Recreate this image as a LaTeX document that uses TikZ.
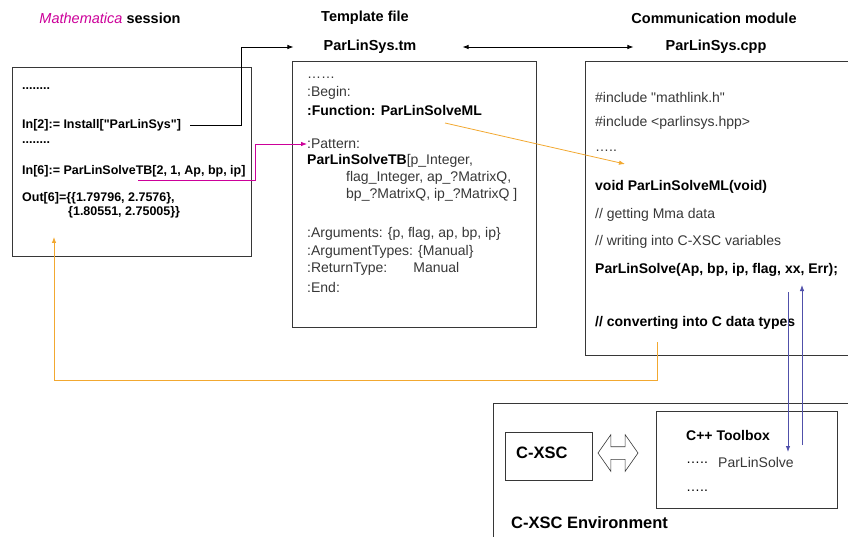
\documentclass[tikz,border=0pt]{standalone}
\usepackage{fontspec}
\setmainfont{Liberation Sans}
\usetikzlibrary{shapes.arrows,arrows.meta}
\definecolor{mmamagenta}{RGB}{204,0,153}
\definecolor{linkorange}{RGB}{242,168,48}
\definecolor{linkblue}{RGB}{80,80,170}
\definecolor{boxgray}{RGB}{55,55,55}
\definecolor{codegray}{RGB}{55,55,55}
\begin{document}
\begin{tikzpicture}[x=1pt,y=-1pt,>={Latex[length=6pt,width=4.5pt]},
  box/.style={draw=boxgray,line width=0.8pt},
  txt/.style={anchor=west,inner sep=0pt,font=\fontsize{14}{16}\selectfont,text=codegray},
  btxt/.style={anchor=west,inner sep=0pt,font=\fontsize{14}{16}\selectfont\bfseries},
  mtxt/.style={anchor=west,inner sep=0pt,font=\fontsize{12.5}{14}\selectfont\bfseries},
  head/.style={inner sep=0pt,font=\fontsize{14.5}{16}\selectfont\bfseries},
  big/.style={anchor=west,inner sep=0pt,font=\fontsize{16.5}{19}\selectfont\bfseries},
  tbtxt/.style={anchor=west,inner sep=0pt,font=\fontsize{14}{16}\selectfont}]
\useasboundingbox (0,0) rectangle (848,537);
% headers
\node[head] (mmatitle) at (110,18) {\textcolor{mmamagenta}{\mdseries\itshape Mathematica} session};
\node[head] (tmtitle) at (365,18) {Template file};
\node[head] (tmname) at (370,47) {ParLinSys.tm};
\node[head] (cpptitle) at (714,18) {Communication module};
\node[head] (cppname) at (716,47) {ParLinSys.cpp};

% Mathematica session
\draw[box] (12,67) rectangle (251,256);
\node[mtxt] (mdots1) at (22,89) {........};
\node[mtxt] (install) at (22,125) {In[2]:= Install[\textquotedbl ParLinSys\textquotedbl]};
\node[mtxt] (mdots2) at (22,143) {........};
\node[mtxt] (solvetb) at (22,171) {In[6]:= ParLinSolveTB[2, 1, Ap, bp, ip]};
\node[mtxt] (out1) at (22,198) {Out[6]=\{\{1.79796, 2.7576\},};
\node[mtxt] (out2) at (68,212) {\{1.80551, 2.75005\}\}};

% template file
\draw[box] (292,61) rectangle (536,327);
\node[txt] (tdots) at (307,78) {……};
\node[txt] (tbegin) at (307,93) {:Begin:};
\node[btxt] (tfunc) at (307,110) {:Function: ParLinSolveML};
\node[txt] (pattern) at (307,144) {:Pattern:};
\node[txt] (tpat1) at (307,161) {\textbf{\color{black}ParLinSolveTB}[p\_Integer,};
\node[txt] (tpat2) at (346,178) {flag\_Integer, ap\_?MatrixQ,};
\node[txt] (tpat3) at (346,195) {bp\_?MatrixQ, ip\_?MatrixQ ]};
\node[txt] (targs) at (307,234) {:Arguments: \{p, flag, ap, bp, ip\}};
\node[txt] (ttypes) at (307,252) {:ArgumentTypes: \{Manual\}};
\node[txt] (tret) at (307,269) {:ReturnType:\hspace{26pt}Manual};
\node[txt] (tend) at (307,287) {:End:};

% communication module
\draw[box] (585,61) rectangle (870,355);
\node[txt] (inc1) at (595,97) {\#include \textquotedbl mathlink.h\textquotedbl};
\node[txt] (inc2) at (595,123) {\#include <parlinsys.hpp>};
\node[txt] (cdots) at (595,151) {…..};
\node[btxt] (voidml) at (595,187) {void ParLinSolveML(void)};
\node[txt] (getmma) at (595,215) {// getting Mma data};
\node[txt] (writex) at (595,242) {// writing into C-XSC variables};
\node[btxt] (plsolve) at (595,270) {ParLinSolve(Ap, bp, ip, flag, xx, Err);};
\node[btxt] (convert) at (595,323) {// converting into C data types};

% C-XSC environment
\draw[box] (493,403) rectangle (870,560);
\draw[box] (505,432) rectangle (592,480);
\node[big] (cxsc) at (516,453) {C-XSC};
\node[double arrow,draw=boxgray,line width=0.6pt,inner xsep=0pt,inner ysep=6pt,
  minimum height=40pt,double arrow head extend=12pt,double arrow tip angle=110]
  (cxsclink) at (618,453) {};
\draw[box] (656,411) rectangle (837,508);
\node[tbtxt,font=\fontsize{14}{16}\selectfont\bfseries] (toolbox) at (686,435) {C++ Toolbox};
\node[tbtxt] (tbdots1) at (686,463) {…..};
\node[tbtxt,text=codegray] (tbsolve) at (718,462) {ParLinSolve};
\node[tbtxt] (tbdots2) at (686,491) {…..};
\node[big] (envlabel) at (511,523) {C-XSC Environment};

% connectors
\coordinate (instbend) at (241,125);
\draw[->,line width=0.8pt] ([xshift=9pt]install.east) -- (instbend) |- ([xshift=-30pt]tmname.west);
\draw[<->,line width=0.8pt] ([xshift=46pt]tmname.east) -- ([xshift=-32pt]cppname.west);
\coordinate (tbbend) at (255,180);
\draw[->,color=mmamagenta,line width=0.8pt] (138,180) -- (tbbend) |- (pattern.west);
\coordinate (fnstart) at (445,123);
\coordinate (fnend) at (625,164);
\draw[->,linkorange,line width=0.8pt] (fnstart) -- (fnend);
\coordinate (retstart) at (657,342);
\coordinate (retend) at (54,237);
\draw[->,linkorange,line width=0.8pt] (retstart) -- (657,380) -| (retend);
\coordinate (callA) at (788,292);
\coordinate (callB) at (788,452);
\coordinate (backA) at (802,445);
\coordinate (backB) at (802,285);
\draw[->,linkblue,line width=0.8pt] (callA) -- (callB);
\draw[->,linkblue,line width=0.8pt] (backA) -- (backB);
\end{tikzpicture}
\end{document}
